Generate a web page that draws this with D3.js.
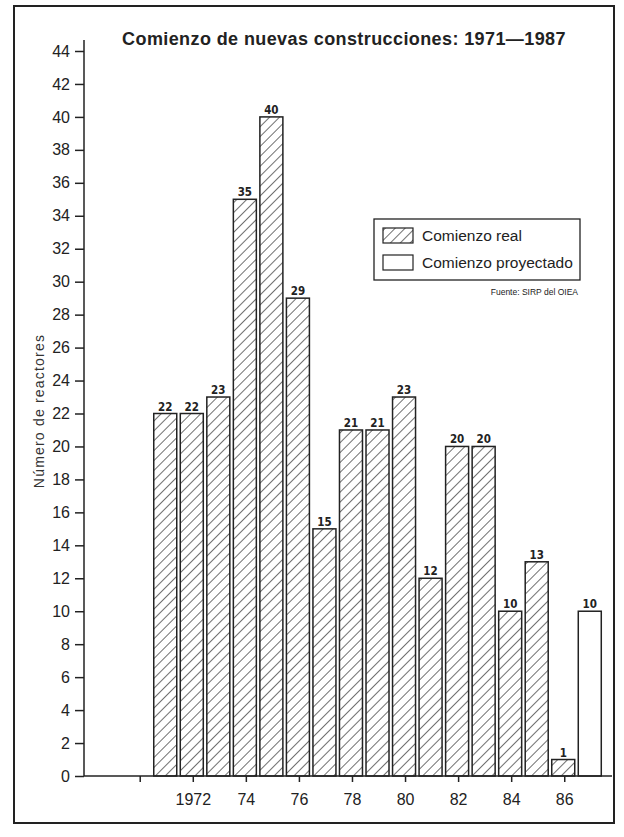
<!DOCTYPE html>
<html>
<head>
<meta charset="utf-8">
<script src="https://cdn.jsdelivr.net/npm/d3@7"></script>
<style>
  body { margin: 0; background: #fff; }
  svg { display: block; font-family: "Liberation Sans", Arial, sans-serif; }
  .axis text { font-size: 16px; fill: #222; }
  .axis line, .axis path { stroke: #222; stroke-width: 1.5px; }
</style>
</head>
<body>
<div id="chart"></div>
<script>
// datos
const years = [1971, 1972, 1973, 1974, 1975, 1976, 1977, 1978, 1979, 1980, 1981, 1982, 1983, 1984, 1985, 1986];
const realStarts = [22, 22, 23, 35, 40, 29, 15, 21, 21, 23, 12, 20, 20, 10, 13, 1];
const projYears = [1987];
const projStarts = [10];
const xTicks = [1970, 1972, 1974, 1976, 1978, 1980, 1982, 1984, 1986];
const xTickLabels = ["", "1972", "74", "76", "78", "80", "82", "84", "86"];
const yTicks = d3.range(0, 45, 2);

const W = 624, H = 837;
const margin = {top: 51, right: 12, bottom: 61, left: 84};

const svg = d3.select("#chart").append("svg")
  .attr("width", W)
  .attr("height", H);

// marco exterior
svg.append("rect")
  .attr("x", 14).attr("y", 6)
  .attr("width", 600).attr("height", 817)
  .attr("fill", "none")
  .attr("stroke", "#222")
  .attr("stroke-width", 2);

const x = d3.scaleLinear().domain([1967.9, 1987.8]).range([margin.left, W - margin.right]);
const y = d3.scaleLinear().domain([0, 44]).range([H - margin.bottom, margin.top]);
const barW = 23;

// trama diagonal
const defs = svg.append("defs");
const pat = defs.append("pattern")
  .attr("id", "hatch")
  .attr("patternUnits", "userSpaceOnUse")
  .attr("width", 7).attr("height", 7)
  .attr("patternTransform", "rotate(45)");
pat.append("rect").attr("width", 7).attr("height", 7).attr("fill", "#fff");
pat.append("line")
  .attr("x1", 0).attr("y1", 0).attr("x2", 0).attr("y2", 7)
  .attr("stroke", "#222").attr("stroke-width", 1.3);

// titulo
svg.append("text")
  .attr("x", 344).attr("y", 45)
  .attr("text-anchor", "middle")
  .style("font-size", "18px")
  .style("font-weight", "bold")
  .style("letter-spacing", "0.4px")
  .attr("fill", "#222")
  .text("Comienzo de nuevas construcciones: 1971\u20141987");

// barras reales
svg.selectAll("rect.real")
  .data(years.map((yr, i) => ({year: yr, value: realStarts[i]})))
  .enter()
  .append("rect")
  .attr("class", "real")
  .attr("x", d => x(d.year) - barW / 2 - 1)
  .attr("y", d => y(d.value))
  .attr("width", barW)
  .attr("height", d => y(0) - y(d.value))
  .attr("fill", "url(#hatch)")
  .attr("stroke", "#222")
  .attr("stroke-width", 1.5);

// barra proyectada
svg.selectAll("rect.proj")
  .data(projYears.map((yr, i) => ({year: yr, value: projStarts[i]})))
  .enter()
  .append("rect")
  .attr("class", "proj")
  .attr("x", d => x(d.year) - barW / 2 - 1)
  .attr("y", d => y(d.value))
  .attr("width", barW)
  .attr("height", d => y(0) - y(d.value))
  .attr("fill", "#fff")
  .attr("stroke", "#222")
  .attr("stroke-width", 1.5);

// etiquetas de valor
const allBars = years.map((yr, i) => ({year: yr, value: realStarts[i]}))
  .concat(projYears.map((yr, i) => ({year: yr, value: projStarts[i]})));
svg.selectAll("text.val")
  .data(allBars)
  .enter()
  .append("text")
  .attr("class", "val")
  .attr("x", d => x(d.year) - 1)
  .attr("y", d => y(d.value) - 3)
  .attr("text-anchor", "middle")
  .style("font-family", "'Liberation Sans Narrow', 'DejaVu Sans Condensed', sans-serif")
  .style("font-size", "11.5px")
  .style("font-weight", "bold")
  .attr("fill", "#222")
  .text(d => d.value);

// eje y
const yAxis = svg.append("g")
  .attr("class", "axis")
  .attr("transform", `translate(${margin.left},0)`)
  .call(d3.axisLeft(y).tickValues(yTicks).tickSize(9).tickPadding(5).tickSizeOuter(0));
yAxis.select(".domain").attr("d", `M0,${y(0)}V${margin.top - 11}`);

// eje x
const xAxis = svg.append("g")
  .attr("class", "axis")
  .attr("transform", `translate(0,${y(0)})`)
  .call(d3.axisBottom(x).tickValues(xTicks).tickSize(6).tickPadding(12)
    .tickFormat((d, i) => xTickLabels[i]).tickSizeOuter(0));
xAxis.select(".domain").attr("d", `M${margin.left},0H${W - margin.right}`);

// titulo eje y
svg.append("text")
  .attr("transform", "rotate(-90)")
  .attr("x", -411).attr("y", 44)
  .attr("text-anchor", "middle")
  .style("font-size", "14px")
  .style("letter-spacing", "1.2px")
  .attr("fill", "#333")
  .text("N\u00famero de reactores");

// leyenda
const legend = svg.append("g").attr("transform", "translate(374,219)");
legend.append("rect")
  .attr("width", 206).attr("height", 61)
  .attr("fill", "#fff").attr("stroke", "#222").attr("stroke-width", 1.3);
legend.append("rect")
  .attr("x", 9).attr("y", 9).attr("width", 30).attr("height", 15)
  .attr("fill", "url(#hatch)").attr("stroke", "#222").attr("stroke-width", 1.2);
legend.append("rect")
  .attr("x", 9).attr("y", 36).attr("width", 30).attr("height", 15)
  .attr("fill", "#fff").attr("stroke", "#222").attr("stroke-width", 1.2);
legend.append("text")
  .attr("x", 48).attr("y", 22)
  .style("font-size", "15.5px").attr("fill", "#222")
  .text("Comienzo real");
legend.append("text")
  .attr("x", 48).attr("y", 49)
  .style("font-size", "15.5px").attr("fill", "#222")
  .text("Comienzo proyectado");

svg.append("text")
  .attr("x", 578).attr("y", 295)
  .attr("text-anchor", "end")
  .style("font-size", "8.5px")
  .attr("fill", "#222")
  .text("Fuente: SIRP del OIEA");
</script>
</body>
</html>
